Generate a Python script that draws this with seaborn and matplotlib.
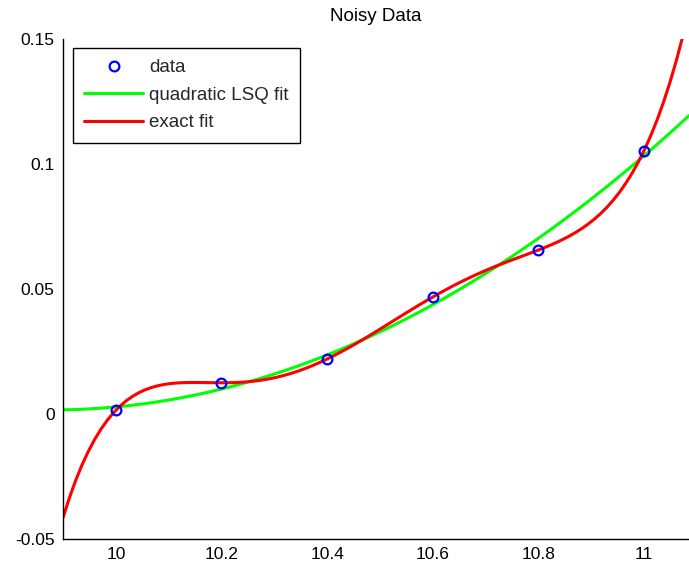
import matplotlib
matplotlib.use("Agg")
import matplotlib.pyplot as plt
import seaborn as sns
import numpy as np
import warnings

# noisy samples
x_data = [10.0, 10.2, 10.4, 10.6, 10.8, 11.0]
y_data = [0.0015, 0.0125, 0.022, 0.0468, 0.0656, 0.1054]

x_ticks = [10, 10.2, 10.4, 10.6, 10.8, 11]
x_labels = ["10", "10.2", "10.4", "10.6", "10.8", "11"]
y_ticks = [-0.05, 0, 0.05, 0.1, 0.15]
y_labels = ["-0.05", "0", "0.05", "0.1", "0.15"]

COLORS = {
    "data":  "#0000ff",
    "quad":  "#00ff00",
    "exact": "#ff0000",
    "text":  "#000000",
}

sns.set_style("white")
plt.rcParams["font.family"] = ["Liberation Sans", "DejaVu Sans"]
warnings.filterwarnings("ignore")

fig = plt.figure(figsize=(6.89, 5.65), dpi=100)
ax = fig.add_axes([63 / 689, 26 / 565, 626 / 689, 500 / 565])

# limits first: regplot with truncate=False spans the current xlim
ax.set_xlim(9.9, 11.085)
ax.set_ylim(-0.05, 0.15)

ax.plot(x_data, y_data, linestyle="none", marker="o", markersize=7,
        markerfacecolor="none", markeredgecolor=COLORS["data"],
        markeredgewidth=1.6, label="data", zorder=5)

sns.regplot(x=np.array(x_data), y=np.array(y_data), order=2, ci=None,
            scatter=False, truncate=False, ax=ax, label="quadratic LSQ fit",
            line_kws={"color": COLORS["quad"], "linewidth": 2.2})
sns.regplot(x=np.array(x_data), y=np.array(y_data), order=5, ci=None,
            scatter=False, truncate=False, ax=ax, label="exact fit",
            line_kws={"color": COLORS["exact"], "linewidth": 2.2})

ax.set_xlim(9.9, 11.085)
ax.set_ylim(-0.05, 0.15)
ax.set_xlabel("")
ax.set_ylabel("")

ax.set_xticks(x_ticks)
ax.set_xticklabels(x_labels)
ax.set_yticks(y_ticks)
ax.set_yticklabels(y_labels)

for side in ["top", "right"]:
    ax.spines[side].set_visible(False)
for side in ["left", "bottom"]:
    ax.spines[side].set_color("black")
    ax.spines[side].set_linewidth(1.0)

ax.tick_params(direction="in", length=5, width=1, colors="black",
               labelsize=12.5, pad=6)

ax.set_title("Noisy Data", fontsize=13.5, color=COLORS["text"], pad=13)

leg = ax.legend(loc="upper left", bbox_to_anchor=(0.016, 0.982),
                frameon=True, fancybox=False, framealpha=1,
                edgecolor="black", fontsize=13.5, handlelength=3.15,
                handletextpad=0.3, labelspacing=0.55, borderpad=0.6,
                borderaxespad=0)
leg.get_frame().set_linewidth(1.0)

fig.savefig("out.png", dpi=100)
